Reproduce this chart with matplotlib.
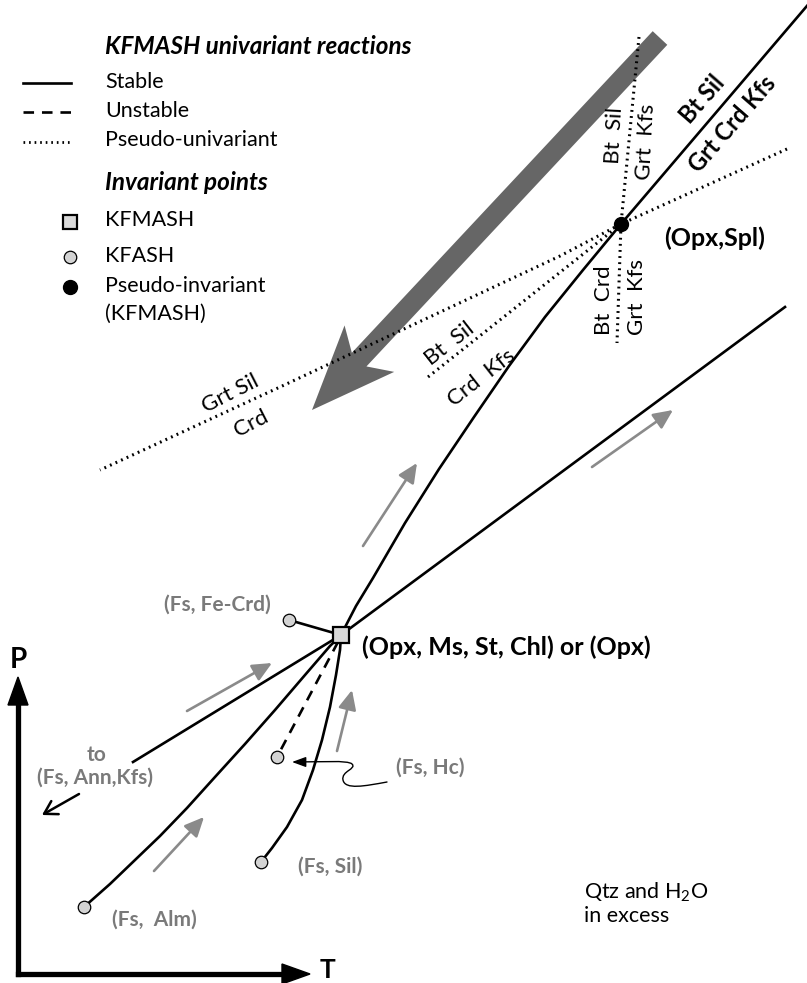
import numpy as np
import matplotlib
matplotlib.use("Agg")
import matplotlib.pyplot as plt
from matplotlib.patches import Polygon, FancyArrowPatch
from matplotlib.path import Path

plt.rcParams['font.family'] = ['Lato', 'DejaVu Sans']
plt.rcParams['mathtext.fontset'] = 'custom'
plt.rcParams['mathtext.rm'] = 'Lato'

# ---- geometry (pixel coords, y down) ----
kfmash_pt = (341, 635)
pseudo_pt = (621, 224)
kfash_pts = {'Fe-Crd': (289, 620), 'Hc': (277, 757), 'Sil': (261, 862), 'Alm': (84, 907)}

# Bt Sil = Grt Crd Kfs (curved below the pseudo-invariant point)
main_x = [341, 356, 373, 405, 439, 474, 509, 545, 583, 621, 812]
main_y = [635, 606, 578, 523, 469, 417, 366, 317, 270, 224, 0]
# right stable line
right_x = [341, 785]
right_y = [635, 307]
# towards (Fs, Ann, Kfs)
ann_x = [341, 133]
ann_y = [635, 762]
# to (Fs, Alm)
alm_x = [341, 330, 305, 275, 245, 215, 187, 160, 135, 110, 84]
alm_y = [635, 646, 675, 710, 744, 777, 808, 836, 860, 884, 907]
# to (Fs, Sil)
sil_x = [341, 340, 336, 330, 322, 313, 302, 287, 272, 261]
sil_y = [635, 650, 675, 707, 740, 770, 800, 827, 848, 862]
# unstable (dashed) to (Fs, Hc)
hc_x = [338, 277]
hc_y = [642, 757]
# to (Fs, Fe-Crd)
fecrd_x = [341, 289]
fecrd_y = [635, 620]

# pseudo-univariant (dotted) lines
steep_x = [639, 621, 617]
steep_y = [37, 224, 343]
long_x = [787, 621, 560, 280, 100]
long_y = [149, 224, 256, 387, 470]
short_x = [621, 428]
short_y = [224, 377]

# small gray arrows (start, end)
gray_arrows = [((363, 546), (417, 463)),
               ((592, 467), (673, 410)),
               ((187, 711), (272, 663)),
               ((337, 751), (352, 690)),
               ((154, 871), (204, 817))]

big_start = np.array([660.0, 38.0])
big_tip = np.array([312.0, 410.0])

GRAY_TXT = '#7a7a7a'
GRAY_ARR = '#8a8a8a'

fig = plt.figure(figsize=(8.07, 9.83), dpi=100)
ax = fig.add_axes([0, 0, 1, 1])
ax.set_xlim(0, 807)
ax.set_ylim(983, 0)
ax.axis('off')

# big PT-path arrow
d = (big_tip - big_start) / np.linalg.norm(big_tip - big_start)
b = -d
n = np.array([-d[1], d[0]])
poly = [big_tip,
        big_tip + 84 * b - 34 * n,
        big_tip + 69 * b - 10 * n,
        big_start - 10 * n,
        big_start + 10 * n,
        big_tip + 69 * b + 10 * n,
        big_tip + 84 * b + 34 * n]
ax.add_patch(Polygon(poly, closed=True, facecolor='#666666', edgecolor='none', zorder=1))

# reaction lines
lw = 1.9
ax.plot(main_x, main_y, color='black', lw=lw, zorder=3, solid_capstyle='butt')
ax.plot(right_x, right_y, color='black', lw=lw, zorder=3)
ax.plot(ann_x, ann_y, color='black', lw=lw, zorder=3)
ax.plot(alm_x, alm_y, color='black', lw=lw, zorder=3)
ax.plot(sil_x, sil_y, color='black', lw=lw, zorder=3)
ax.plot(fecrd_x, fecrd_y, color='black', lw=lw, zorder=3)
ax.plot(hc_x, hc_y, color='black', lw=lw, ls=(0, (4, 3)), zorder=3)

dot = (0, (0.6, 1.4))
for xs, ys in [(steep_x, steep_y), (long_x, long_y), (short_x, short_y)]:
    ax.plot(xs, ys, color='black', lw=2.2, ls=dot, zorder=3)

# invariant points
ax.plot(*kfmash_pt, marker='s', ms=11.5, mfc='#d9d9d9', mec='black', mew=1.6, zorder=5)
ax.plot(*pseudo_pt, marker='o', ms=10, mfc='black', mec='black', zorder=5)
for name, (px, py) in kfash_pts.items():
    ax.plot(px, py, marker='o', ms=9, mfc='#d3d3d3', mec='black', mew=0.9, zorder=5)

# gray arrows
for (x0, y0), (x1, y1) in gray_arrows:
    ax.annotate('', xy=(x1, y1), xytext=(x0, y0),
                arrowprops=dict(arrowstyle='-|>,head_length=0.65,head_width=0.3',
                                color=GRAY_ARR, lw=1.9, mutation_scale=18,
                                shrinkA=0, shrinkB=0), zorder=4)

# black arrow towards (Fs, Ann, Kfs)
ax.annotate('', xy=(42, 815), xytext=(79, 794),
            arrowprops=dict(arrowstyle='->,head_length=0.5,head_width=0.3',
                            color='black', lw=1.8, mutation_scale=18,
                            shrinkA=0, shrinkB=0))

# wavy pointer to (Fs, Hc)
verts = [(387, 782), (365, 786), (345, 790), (343, 780),
         (341, 771), (357, 769), (352, 764),
         (348, 760), (320, 762), (292, 762)]
codes = [Path.MOVETO, Path.CURVE4, Path.CURVE4, Path.CURVE4,
         Path.CURVE4, Path.CURVE4, Path.CURVE4,
         Path.CURVE4, Path.CURVE4, Path.CURVE4]
ax.add_patch(FancyArrowPatch(path=Path(verts, codes),
                             arrowstyle='-|>,head_length=0.6,head_width=0.22',
                             mutation_scale=14, color='black', lw=1.0))

# P-T axes
ax.plot([18, 18], [974, 700], color='black', lw=3.8, solid_capstyle='projecting')
ax.plot([18, 290], [974, 974], color='black', lw=3.8, solid_capstyle='projecting')
ax.add_patch(Polygon([(18, 677), (8, 705), (28, 705)], closed=True, color='black'))
ax.add_patch(Polygon([(310, 974), (282, 964), (282, 984)], closed=True, color='black'))
ax.text(18, 660, 'P', fontsize=20, fontweight='bold', ha='center', va='center')
ax.text(328, 970, 'T', fontsize=19, fontweight='bold', ha='center', va='center')

# reaction labels
ax.text(702, 99, 'Bt Sil', fontsize=17, fontweight='bold', rotation=49,
        ha='center', va='center')
ax.text(732, 124, 'Grt Crd Kfs', fontsize=17, fontweight='bold', rotation=49,
        ha='center', va='center')
ax.text(614, 135, 'Bt  Sil', fontsize=16, rotation=87, ha='center', va='center')
ax.text(646, 142, 'Grt  Kfs', fontsize=16, rotation=87, ha='center', va='center')
ax.text(604, 300, 'Bt  Crd', fontsize=16, rotation=90, ha='center', va='center')
ax.text(637, 297, 'Grt  Kfs', fontsize=16, rotation=90, ha='center', va='center')
ax.text(450, 344, 'Bt  Sil', fontsize=16, rotation=38, ha='center', va='center')
ax.text(482, 378, 'Crd  Kfs', fontsize=16, rotation=38, ha='center', va='center')
ax.text(230, 394, 'Grt Sil', fontsize=16, rotation=27, ha='center', va='center')
ax.text(251, 424, 'Crd', fontsize=16, rotation=27, ha='center', va='center')

ax.text(715, 238, '(Opx,Spl)', fontsize=18, fontweight='bold', ha='center', va='center')
ax.text(362, 647, '(Opx, Ms, St, Chl) or (Opx)', fontsize=18, fontweight='bold',
        ha='left', va='center')

# gray absent-phase labels
gkw = dict(fontsize=15, fontweight='bold', color=GRAY_TXT, ha='center', va='center')
ax.text(217, 605, '(Fs, Fe-Crd)', **gkw)
ax.text(97, 755, 'to', **gkw)
ax.text(95, 778, '(Fs, Ann,Kfs)', **gkw)
ax.text(430, 768, '(Fs, Hc)', **gkw)
ax.text(330, 867, '(Fs, Sil)', **gkw)
ax.text(154, 920, '(Fs,  Alm)', **gkw)

ax.text(584, 892, 'Qtz and H$_\\mathregular{2}$O', fontsize=15.5, ha='left', va='center')
ax.text(584, 916, 'in excess', fontsize=15.5, ha='left', va='center')

# legend block
ax.text(105, 46, 'KFMASH univariant reactions', fontsize=17.5, fontweight='bold',
        style='italic', ha='left', va='center')
ax.plot([23, 71], [83, 83], color='black', lw=1.9)
ax.plot([23, 71], [112, 112], color='black', lw=1.9, ls=(0, (4, 3)))
ax.plot([23, 71], [142, 142], color='black', lw=2.0, ls=(0, (0.6, 1.4)))
ax.text(105, 82, 'Stable', fontsize=15.5, ha='left', va='center')
ax.text(105, 111, 'Unstable', fontsize=15.5, ha='left', va='center')
ax.text(105, 140, 'Pseudo-univariant', fontsize=15.5, ha='left', va='center')
ax.text(105, 183, 'Invariant points', fontsize=17.5, fontweight='bold',
        style='italic', ha='left', va='center')
ax.plot(70, 222, marker='s', ms=10, mfc='#d9d9d9', mec='black', mew=1.6)
ax.plot(70, 257, marker='o', ms=9, mfc='#d3d3d3', mec='black', mew=0.9)
ax.plot(70, 287, marker='o', ms=10, mfc='black', mec='black')
ax.text(105, 220, 'KFMASH', fontsize=15.5, ha='left', va='center')
ax.text(105, 256, 'KFASH', fontsize=15.5, ha='left', va='center')
ax.text(105, 286, 'Pseudo-invariant', fontsize=15.5, ha='left', va='center')
ax.text(105, 314, '(KFMASH)', fontsize=15.5, ha='left', va='center')

fig.savefig('out.png', dpi=100)
